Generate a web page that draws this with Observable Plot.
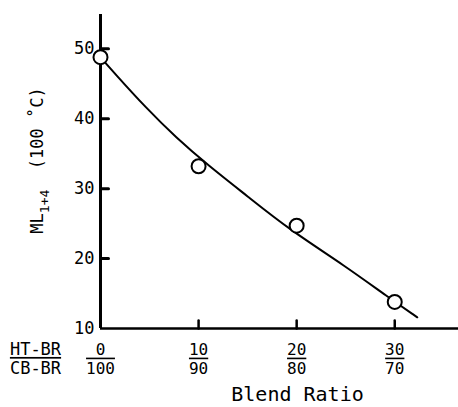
<!DOCTYPE html>
<html>
<head>
<meta charset="utf-8">
<script src="https://cdn.jsdelivr.net/npm/d3@7"></script>
<script src="https://cdn.jsdelivr.net/npm/@observablehq/plot@0.6"></script>
<style>
  html, body { margin: 0; padding: 0; background: #fff; }
  #chart svg { display: block; }
</style>
</head>
<body>
<div id="chart"></div>
<script>
// Measured data points (blend ratio HT-BR parts vs Mooney viscosity)
const ratioX = [0, 10, 20, 30];
const mooney = [48.8, 33.2, 24.7, 13.8];

// Hand-drawn fitted curve
const curveX = [0.3, 1.5, 4.6, 7.7, 11, 15, 19.2, 25, 29.3, 32.3];
const curveY = [48.3, 46.4, 41.6, 37.3, 33.3, 28.9, 24.2, 18.9, 14.5, 11.6];

// Tick labels
const yTicks = [10, 20, 30, 40, 50];
const yMarkTicks = [20, 30, 40, 50];
const xTicks = [0, 10, 20, 30];
const xMarkTicks = [10, 20, 30];
const numerators = ["0", "10", "20", "30"];
const denominators = ["100", "90", "80", "70"];
const rowNumerator = "HT-BR";
const rowDenominator = "CB-BR";
const xTitle = "Blend Ratio";
const yTitleMain = "ML";
const yTitleSub = "1+4";
const yTitleUnit = "  (100 \u02DAC)";

const points = ratioX.map((x, i) => ({x, y: mooney[i]}));
const curve = curveX.map((x, i) => ({x, y: curveY[i]}));
const xLabels = xTicks.map((x, i) => ({x, num: numerators[i], den: denominators[i]}));

const font = "'DejaVu Sans Mono', monospace";
const tickShape = {draw(ctx, l) { ctx.moveTo(0, 0); ctx.lineTo(0, -l); }};
const centered = {textAnchor: "middle", lineAnchor: "middle"};

const chart = Plot.plot({
  width: 458,
  height: 407,
  marginLeft: 100,
  marginRight: 0,
  marginTop: 14,
  marginBottom: 79,
  style: {fontFamily: font, background: "#fff", color: "#000"},
  x: {domain: [0, 36.5], axis: null},
  y: {domain: [10, 54.9], axis: null},
  marks: [
    Plot.ruleX([0], {strokeWidth: 3, y1: 10, y2: 54.9}),
    Plot.ruleY([10], {strokeWidth: 2.5}),
    Plot.vector(yMarkTicks, {x: 0, y: d => d, length: 8, rotate: 90, anchor: "start", shape: tickShape, strokeWidth: 3}),
    Plot.vector(xMarkTicks, {x: d => d, y: 10, length: 8, rotate: 0, anchor: "start", shape: tickShape, strokeWidth: 2.5}),
    Plot.text(yTicks, {x: 0, y: d => d, text: d => String(d), textAnchor: "end", dx: -6, fontSize: 17}),
    Plot.text(xLabels, {x: "x", y: 10, text: "num", dy: 21, fontSize: 16}),
    Plot.text(xLabels, {x: "x", y: 10, text: "den", dy: 40, fontSize: 16, className: "den"}),
    Plot.text([rowNumerator], {frameAnchor: "bottom-left", ...centered, text: d => d, dx: -65, dy: 21, fontSize: 17}),
    Plot.text([rowDenominator], {frameAnchor: "bottom-left", ...centered, text: d => d, dx: -65, dy: 40, fontSize: 17, className: "den"}),
    Plot.text([xTitle], {frameAnchor: "bottom", ...centered, text: d => d, dx: 18, dy: 66, fontSize: 20}),
    Plot.text([yTitleMain + yTitleSub + yTitleUnit], {frameAnchor: "left", ...centered, text: d => d, dx: -63, dy: -11, rotate: -90, fontSize: 17, className: "ytitle"}),
    Plot.line(curve, {x: "x", y: "y", curve: "basis", strokeWidth: 2}),
    Plot.dot(points, {x: "x", y: "y", r: 7, fill: "white", stroke: "black", strokeWidth: 2})
  ]
});
chart.querySelectorAll(".den text").forEach(t => t.setAttribute("text-decoration", "overline"));
chart.querySelectorAll(".ytitle text").forEach(t => {
  t.textContent = "";
  const ns = "http://www.w3.org/2000/svg";
  const a = document.createElementNS(ns, "tspan"); a.textContent = yTitleMain;
  const b = document.createElementNS(ns, "tspan"); b.textContent = yTitleSub;
  b.setAttribute("font-size", "13"); b.setAttribute("dy", "6");
  const c = document.createElementNS(ns, "tspan"); c.textContent = yTitleUnit;
  c.setAttribute("dy", "-6"); c.setAttribute("xml:space", "preserve");
  t.setAttribute("xml:space", "preserve");
  t.append(a, b, c);
});
document.getElementById("chart").appendChild(chart);
</script>
</body>
</html>
